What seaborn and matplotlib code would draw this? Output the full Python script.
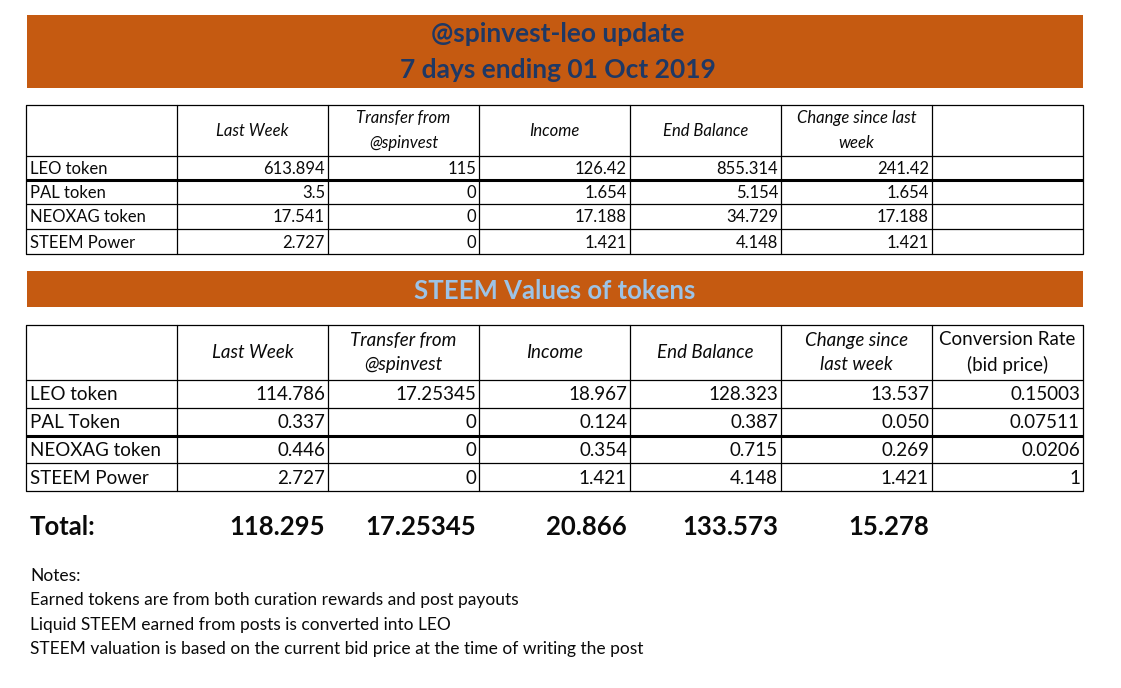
import numpy as np
import pandas as pd
import matplotlib
matplotlib.use('Agg')
import matplotlib.pyplot as plt
import seaborn as sns

# --- data ---
title_lines = ['@spinvest-leo update', '7 days ending 01 Oct 2019']
section_title = 'STEEM Values of tokens'

headers_tokens = ['', 'Last Week', 'Transfer from\n@spinvest', 'Income', 'End Balance',
                  'Change since last\nweek', '']
labels_tokens = ['LEO token', 'PAL token', 'NEOXAG token', 'STEEM Power']
last_week = ['613.894', '3.5', '17.541', '2.727']
transfer = ['115', '0', '0', '0']
income = ['126.42', '1.654', '17.188', '1.421']
end_balance = ['855.314', '5.154', '34.729', '4.148']
change = ['241.42', '1.654', '17.188', '1.421']

headers_steem = ['', 'Last Week', 'Transfer from\n@spinvest', 'Income', 'End Balance',
                 'Change since\nlast week', 'Conversion Rate\n(bid price)']
labels_steem = ['LEO token', 'PAL Token', 'NEOXAG token', 'STEEM Power']
steem_last_week = ['114.786', '0.337', '0.446', '2.727']
steem_transfer = ['17.25345', '0', '0', '0']
steem_income = ['18.967', '0.124', '0.354', '1.421']
steem_end = ['128.323', '0.387', '0.715', '4.148']
steem_change = ['13.537', '0.050', '0.269', '1.421']
conversion_rate = ['0.15003', '0.07511', '0.0206', '1']

total_label = 'Total:'
totals = ['118.295', '17.25345', '20.866', '133.573', '15.278']

notes = ['Notes:',
         'Earned tokens are from both curation rewards and post payouts',
         'Liquid STEEM earned from posts is converted into LEO',
         'STEEM valuation is based on the current bid price at the time of writing the post']

df_tokens = pd.DataFrame({'label': labels_tokens, 'last': last_week, 'transfer': transfer,
                          'income': income, 'end': end_balance, 'change': change,
                          'extra': [''] * 4})
df_steem = pd.DataFrame({'label': labels_steem, 'last': steem_last_week, 'transfer': steem_transfer,
                         'income': steem_income, 'end': steem_end, 'change': steem_change,
                         'extra': conversion_rate})

# --- style ---
sns.set_theme(style='white')
plt.rcParams['font.family'] = ['Lato', 'DejaVu Sans']

ORANGE = '#C55A11'
NAVY = '#1F3864'
LIGHTBLUE = '#9DC3E6'
INK = '#0a0a0a'

col_edges = [26, 177, 328, 479, 630, 781, 932, 1083]

fig = plt.figure(figsize=(11.21, 6.88), dpi=100)
ax = fig.add_axes([0, 0, 1, 1])
ax.set_xlim(0, 1121)
ax.set_ylim(688, 0)
ax.axis('off')


def draw_table(df, headers, row_edges, thick_idx, fs, head_ls, upright_cols=()):
    left, right = col_edges[0], col_edges[-1]
    for i, y in enumerate(row_edges):
        ax.plot([left, right], [y, y], color='black', lw=2.2 if i == thick_idx else 0.9,
                solid_capstyle='butt')
    for x in col_edges:
        ax.plot([x, x], [row_edges[0], row_edges[-1]], color='black', lw=0.9)
    # header
    hy = (row_edges[0] + row_edges[1]) / 2
    for j, h in enumerate(headers):
        if not h:
            continue
        cx = (col_edges[j] + col_edges[j + 1]) / 2
        ax.text(cx, hy, h, ha='center', va='center', fontsize=fs,
                style='normal' if j in upright_cols else 'italic',
                linespacing=head_ls, color=INK)
    # body
    for r, row in enumerate(df.itertuples(index=False)):
        cy = (row_edges[r + 1] + row_edges[r + 2]) / 2 + 1
        ax.text(col_edges[0] + 4, cy, row[0], ha='left', va='center', fontsize=fs, color=INK)
        for j, v in enumerate(row[1:], start=1):
            if v == '':
                continue
            ax.text(col_edges[j + 1] - 3, cy, v, ha='right', va='center', fontsize=fs,
                    color=INK)


# banner 1
ax.add_patch(plt.Rectangle((27, 15), 1056, 73, color=ORANGE, lw=0))
ax.text(558, 34, title_lines[0], ha='center', va='center', fontsize=19,
        fontweight='bold', color=NAVY)
ax.text(558, 70, title_lines[1], ha='center', va='center', fontsize=19,
        fontweight='bold', color=NAVY)

draw_table(df_tokens, headers_tokens, [105, 156, 180, 204, 229, 254], 2, 12, 1.65)

# banner 2
ax.add_patch(plt.Rectangle((27, 271), 1056, 36, color=ORANGE, lw=0))
ax.text(555, 291, section_title, ha='center', va='center', fontsize=18.5,
        fontweight='bold', color=LIGHTBLUE)

draw_table(df_steem, headers_steem, [325, 380, 408, 436, 463, 491], 3, 13.5, 1.5,
           upright_cols=(6,))

# totals
ax.text(30, 527, total_label, ha='left', va='center', fontsize=18.5, fontweight='bold',
        color=INK)
for j, t in enumerate(totals):
    ax.text(col_edges[j + 2] - 3, 527, t, ha='right', va='center', fontsize=18.5,
            fontweight='bold', color=INK)

# notes
for i, line in enumerate(notes):
    ax.text(30, 576 + i * 24.3, line, ha='left', va='center', fontsize=12.5,
            family=['Liberation Sans Narrow', 'Lato', 'DejaVu Sans'], color=INK)

fig.savefig('out.png', dpi=100, facecolor='white')
